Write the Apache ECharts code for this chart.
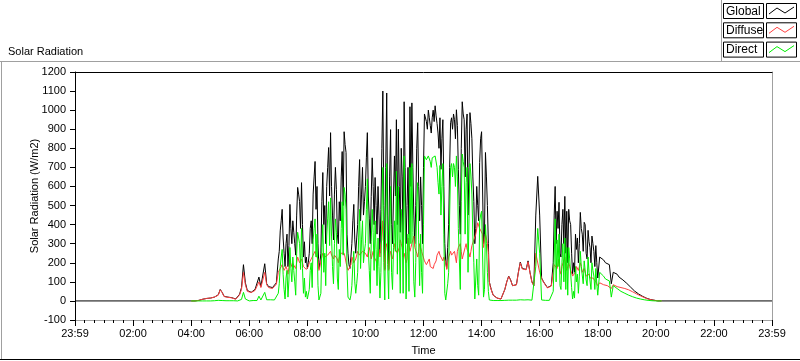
<!DOCTYPE html>
<html>
<head>
<meta charset="utf-8">
<script src="https://cdn.jsdelivr.net/npm/echarts@6/dist/echarts.min.js"></script>
<style>
html,body{margin:0;padding:0;background:#fff;}
#chart{width:800px;height:361px;}
</style>
</head>
<body>
<div id="chart"></div>
<script>
// ---- data ----
const tickLabels = ['23:59','02:00','04:00','06:00','08:00','10:00','12:00','14:00','16:00','18:00','20:00','22:00','23:59'];
const seriesNames = ['Global', 'Diffuse', 'Direct'];
const dayStartMin = 0, dayEndMin = 1440;   // 23:59 .. 23:59
const sampleStepMin = 4;
const mainStartMin = 240;   // 04:00, main samples every 4 minutes
const midStartA = 422;      // extra in-between samples (07:02 .. 14:18)
const midStartB = 990;      // extra in-between samples (16:30 .. 17:58)

const globalVals = [
 0,0,0,1,3,6,9,12,13,14,15,17,20,25,32,
 60,45,24,20,20,18,17,14,10,8,35,70,190,95,55,
 50,45,55,60,50,125,75,65,195,90,75,85,70,80,95,
 220,367,480,250,300,180,506,300,360,240,595,520,620,230,200,
 170,250,420,560,731,600,170,250,673,500,600,804,882,450,560,
 585,300,420,783,887,778,250,170,300,506,250,400,741,560,450,
 600,882,430,548,600,647,350,450,480,1100,167,1090,167,898,300,
 760,950,900,360,650,1044,300,700,1018,1038,450,500,934,420,500,
 700,980,900,960,880,1000,1023,930,800,690,950,300,170,400,934,
 900,950,1002,690,350,1044,950,900,450,987,850,520,380,500,725,
 887,300,778,500,100,60,30,20,15,12,10,20,60,100,130,
 110,80,80,85,150,204,170,180,165,210,150,100,80,450,653,
 450,120,100,90,70,65,80,200,600,470,517,230,480,548,470,
 480,400,140,150,270,200,464,350,412,250,370,280,340,260,290,
 120,230,225,215,200,195,190,90,150,140,140,125,120,110,100,
 92,82,72,62,52,44,37,31,25,20,15,11,8,6,4,
 2,0,0,0
];
const diffuseVals = [
 0,0,0,1,3,6,9,12,13,14,15,17,20,24,30,
 58,44,23,19,19,17,16,13,9,7,32,60,150,85,50,
 48,44,52,55,48,100,70,60,150,85,70,78,65,75,88,
 150,170,190,160,180,140,210,180,200,170,230,200,220,180,170,
 160,200,220,240,260,230,160,210,250,230,220,240,260,230,240,
 240,200,230,260,250,200,160,165,230,200,220,260,240,250,260,
 250,230,280,220,260,240,200,270,300,420,160,300,160,260,220,
 300,260,240,320,280,250,200,330,260,300,340,270,230,300,260,
 250,200,180,220,190,170,200,240,260,230,210,240,165,230,260,
 230,260,200,280,300,220,250,300,280,230,290,320,350,410,380,
 380,280,350,300,100,58,30,20,15,12,10,20,60,100,128,
 108,80,78,84,148,200,168,178,163,205,148,98,80,250,260,
 150,118,98,88,68,63,78,150,200,170,220,140,180,230,160,
 200,170,130,140,180,160,200,150,170,130,140,120,130,110,100,
 80,95,90,85,90,80,75,65,85,80,75,72,70,68,65,
 62,58,54,48,42,37,32,27,22,18,14,10,7,5,3,
 2,0,0,0
];
const directVals = [
 0,0,0,0,0,0,0,0,0,0,0,0,1,2,3,
 4,2,1,1,1,1,1,1,0,0,2,8,45,10,4,
 0,0,2,4,2,25,5,3,45,6,4,6,3,5,8,
 40,180,270,60,120,20,280,100,160,30,360,300,380,40,20,
 10,60,200,320,430,350,5,40,400,250,340,520,540,180,300,
 360,60,180,520,595,480,20,5,80,260,40,150,480,320,200,
 300,640,160,310,360,420,80,180,150,700,5,720,10,600,60,
 420,680,600,40,380,760,10,350,700,720,100,200,620,80,150,
 400,770,740,760,700,750,760,700,560,450,720,40,5,150,700,
 650,700,760,380,60,770,700,620,150,720,560,200,20,80,420,
 470,20,400,150,5,3,2,2,2,2,2,2,3,3,4,
 4,4,4,4,5,6,5,5,5,6,5,4,4,180,380,
 250,5,3,3,3,3,3,50,430,320,350,60,300,330,280,
 280,230,10,15,100,40,260,180,210,110,230,150,200,130,170,
 30,150,140,130,115,110,105,20,80,70,65,55,50,45,40,
 35,30,26,22,18,15,12,10,8,6,4,3,2,1,1,
 0,0,0,0
];

// in-between samples, 07:02 .. 14:18
const globalMidA = [
 260,420,330,180,350,290,380,420,300,450,560,380,400,310,230,
 200,380,300,650,480,300,200,520,400,300,700,550,600,320,700,
 350,520,650,500,820,350,190,230,420,320,330,600,420,700,520,
 750,550,300,750,400,500,600,250,800,500,700,450,650,400,550,
 550,400,600,800,280,700,500,350,600,700,300,800,600,650,300,
 980,940,1000,920,960,940,970,880,960,850,600,200,280,700,960,
 980,850,920,500,800,980,650,980,700,930,650,300,600,420,850,
 880,350,650,300,80
];
const diffuseMidA = [
 160,180,175,170,165,175,200,195,190,200,215,210,200,175,165,
 180,210,230,250,240,220,180,230,240,220,240,250,240,220,250,
 220,230,250,250,230,180,170,190,220,210,230,250,240,260,250,
 240,260,250,240,230,220,250,230,320,300,280,250,230,240,250,
 270,250,280,300,230,240,220,290,280,320,280,250,260,280,250,
 210,190,200,180,185,190,210,250,240,240,230,200,170,220,240,
 250,230,260,270,260,240,280,270,250,260,300,330,380,400,390,
 350,280,330,250,75
];
const directMidA = [
 90,230,140,10,160,110,170,230,100,250,330,165,170,120,50,
 15,160,70,380,230,80,15,280,150,80,430,290,340,90,430,
 120,270,380,240,560,160,15,30,190,100,90,330,170,420,260,
 480,270,40,480,160,270,330,15,470,200,400,190,400,150,280,
 260,140,300,480,40,440,260,50,300,360,20,520,320,350,40,
 760,740,760,730,750,740,750,620,710,600,350,5,90,450,720,
 720,600,650,220,520,730,350,700,430,660,340,10,220,30,450,
 480,60,300,50,3
];
// in-between samples, 16:30 .. 17:58
const globalMidB = [450,300,380,250,400,300,250,200,420,250,200,350,330,300,380,260,400,220,310,200,300,180,200];
const diffuseMidB = [190,190,180,160,180,190,180,160,180,170,140,150,170,150,180,160,170,135,140,125,120,110,95];
const directMidB = [230,100,180,80,200,100,60,30,220,70,50,180,140,130,180,90,210,80,150,60,160,60,90];

// ---- build ----
const toPairs = (vals, start) => vals.map((v, i) => [start + i * sampleStepMin, v]);
const merge = (main, a, b) => toPairs(main, mainStartMin)
  .concat(toPairs(a, midStartA), toPairs(b, midStartB))
  .sort((p, q) => p[0] - q[0]);
const globalData = [[dayStartMin, 0]].concat(merge(globalVals, globalMidA, globalMidB), [[dayEndMin, 0]]);
const diffuseData = merge(diffuseVals, diffuseMidA, diffuseMidB);
const directData = merge(directVals, directMidA, directMidB);

const FONT = 'Liberation Sans';
const colors = ['#000000', '#ff4040', '#00f000'];
const gray = '#a0a0a0';

const legendGraphics = [];
seriesNames.forEach((name, k) => {
  const y0 = 3 + k * 19.3;
  legendGraphics.push({type:'rect', shape:{x:723.5, y:y0 + 0.5, width:40, height:15}, style:{fill:'#fff', stroke:'#000', lineWidth:1}});
  legendGraphics.push({type:'text', x:726, y:y0 + 8.5, style:{text:name, fill:'#000', font:'12px ' + FONT, textVerticalAlign:'middle'}});
  legendGraphics.push({type:'rect', shape:{x:766.5, y:y0 + 0.5, width:30, height:15}, style:{fill:'#fff', stroke:'#000', lineWidth:1}});
  legendGraphics.push({type:'polyline', shape:{points:[[769, y0 + 11],[777, y0 + 5],[785, y0 + 10],[794, y0 + 4]]}, style:{stroke:colors[k], lineWidth:1, fill:null}});
});

const chart = echarts.init(document.getElementById('chart'), null, {renderer:'canvas'});
chart.setOption({
  animation: false,
  backgroundColor: '#fff',
  textStyle: {fontFamily: FONT},
  title: {text:'Solar Radiation', left:3, top:41, textStyle:{fontSize:11, fontWeight:'normal', color:'#000', fontFamily:FONT}},
  grid: {left:75, right:28, top:72, bottom:39},
  xAxis: [{
    type:'value', min:dayStartMin, max:dayEndMin, interval:120,
    name:'Time', nameLocation:'middle', nameGap:25, nameMoveOverlap:false,
    nameTextStyle:{fontSize:11, color:'#000', fontFamily:FONT},
    axisLine:{show:true, onZero:false, lineStyle:{color:gray, width:1}},
    axisTick:{show:true, length:6, lineStyle:{color:'#000'}},
    minorTick:{show:true, splitNumber:6, length:3, lineStyle:{color:'#000'}},
    splitLine:{show:false},
    axisLabel:{margin:8, fontSize:11, color:'#000', fontFamily:FONT,
      formatter: v => tickLabels[Math.round(v / 120)] || ''}
  },{
    type:'value', position:'top', min:dayStartMin, max:dayEndMin,
    axisLine:{show:true, onZero:false, lineStyle:{color:'#000', width:1}},
    axisTick:{show:false}, axisLabel:{show:false}, splitLine:{show:false}
  }],
  yAxis: [{
    type:'value', min:-100, max:1200, interval:100,
    name:'Solar Radiation (W/m2)', nameLocation:'middle', nameGap:35, nameMoveOverlap:false,
    nameTextStyle:{fontSize:11, color:'#000', fontFamily:FONT},
    axisLine:{show:true, onZero:false, lineStyle:{color:'#000', width:1}},
    axisTick:{show:true, length:5, lineStyle:{color:'#000'}},
    splitLine:{show:false},
    axisLabel:{margin:9, fontSize:11, color:'#000', fontFamily:FONT, formatter: v => String(v)}
  },{
    type:'value', position:'right', min:-100, max:1200,
    axisLine:{show:true, onZero:false, lineStyle:{color:gray, width:1}},
    axisTick:{show:false}, axisLabel:{show:false}, splitLine:{show:false}
  }],
  series: [
    {name:seriesNames[0], type:'line', data:globalData, showSymbol:false, symbol:'none', lineStyle:{color:colors[0], width:1}, z:2},
    {name:seriesNames[1], type:'line', data:diffuseData, showSymbol:false, symbol:'none', lineStyle:{color:colors[1], width:1}, z:3},
    {name:seriesNames[2], type:'line', data:directData, showSymbol:false, symbol:'none', lineStyle:{color:colors[2], width:1}, z:4}
  ],
  graphic: [
    {type:'line', shape:{x1:0, y1:61.5, x2:800, y2:61.5}, style:{stroke:gray, lineWidth:1}},
    {type:'line', shape:{x1:1.5, y1:61, x2:1.5, y2:360}, style:{stroke:gray, lineWidth:1}},
    {type:'line', shape:{x1:0, y1:359.5, x2:800, y2:359.5}, style:{stroke:'#000', lineWidth:1}},
    {type:'line', shape:{x1:721.5, y1:0, x2:721.5, y2:61}, style:{stroke:gray, lineWidth:1}}
  ].concat(legendGraphics)
});
</script>
</body>
</html>
